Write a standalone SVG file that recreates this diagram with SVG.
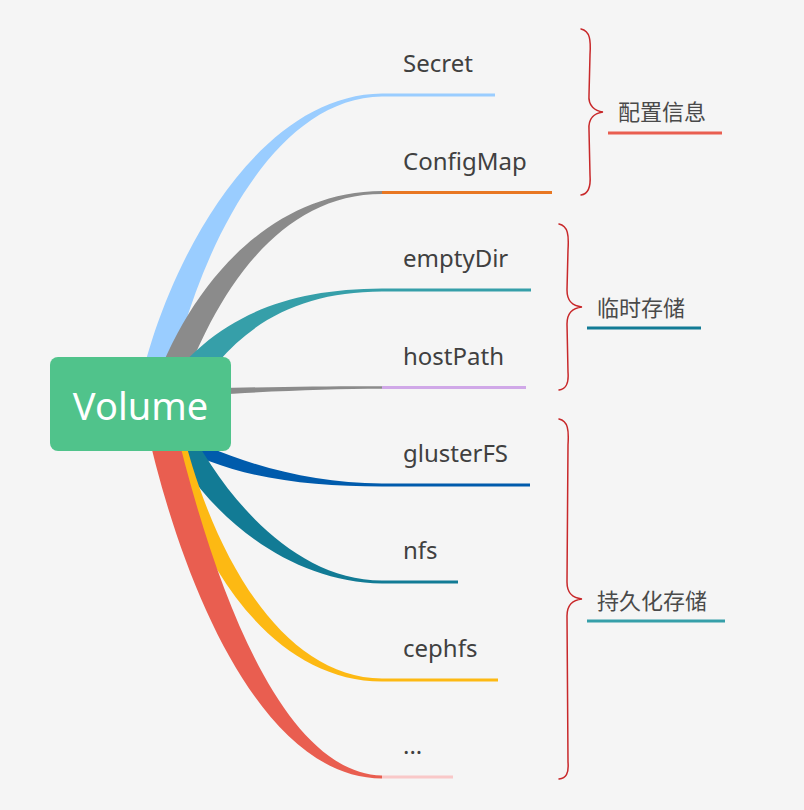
<svg xmlns="http://www.w3.org/2000/svg" width="804" height="810" viewBox="0 0 804 810">
<style>
.lbl{font-family:"Noto Sans","Open Sans","DejaVu Sans",sans-serif;font-size:24px;fill:#404040}
.grp{font-family:"Noto Sans CJK SC","Noto Sans",sans-serif;font-size:22px;fill:#4a4a4a}
.brace{fill:none;stroke:#C8282A;stroke-width:1.5;stroke-linecap:round}
.ul{stroke-width:3;fill:none}
</style>
<rect x="0" y="0" width="804" height="810" fill="#F5F5F5"/>
<g id="connectors">
  <path d="M136,404 C158,280 250,95 382,93.5 L382,96.5 C262,98 186,282 166,404 Z" fill="#9ACDFF"/>
  <path d="M148,404 C180,300 260,192 382,191 L382,194 C280,194 215,290 176,404 Z" fill="#8B8B8B"/>
  <path d="M158,395 C210,320 280,289 382,288.5 L382,291.5 C290,292 230,330 185,410 Z" fill="#369FA9"/>
  <path d="M160,390 C250,387 320,386 382,386.2 L382,388.8 C320,389 250,392 160,398 Z" fill="#8B8B8B"/>
  <path d="M160,425 C230,460 300,483 382,483.5 L382,486.5 C300,486 230,478 165,440 Z" fill="#005BAC"/>
  <path d="M160,420 C190,500 280,583 382,583.5 L382,580.5 C290,580 220,490 185,420 Z" fill="#127B95"/>
  <path d="M160,420 C190,560 270,681 382,681.5 L382,678.5 C280,678 210,550 180,420 Z" fill="#FDB913"/>
  <path d="M145,420 C180,580 260,778 382,778.5 L382,775.5 C280,773 212,580 174,420 Z" fill="#E95E50"/>
  <line class="ul" x1="382" y1="95" x2="495" y2="95" stroke="#9ACDFF"/>
  <line class="ul" x1="382" y1="192.5" x2="552" y2="192.5" stroke="#E87722"/>
  <line class="ul" x1="382" y1="290" x2="531" y2="290" stroke="#369FA9"/>
  <line class="ul" x1="382" y1="387.5" x2="526" y2="387.5" stroke="#D0A8E8"/>
  <line class="ul" x1="382" y1="485" x2="530" y2="485" stroke="#005BAC"/>
  <line class="ul" x1="382" y1="582" x2="458" y2="582" stroke="#127B95"/>
  <line class="ul" x1="382" y1="680" x2="498" y2="680" stroke="#FDB913"/>
  <line class="ul" x1="382" y1="777" x2="453" y2="777" stroke="#F9C8C8"/>
</g>
<g id="volume">
  <rect x="50" y="357" width="181" height="94" rx="8" fill="#50C38B"/>
  <text x="140.5" y="420" text-anchor="middle" font-family="Noto Sans, Open Sans, sans-serif" font-size="38" fill="#FFFFFF">Volume</text>
</g>
<g id="secret"><text class="lbl" x="403" y="72">Secret</text></g>
<g id="configmap"><text class="lbl" x="403" y="170">ConfigMap</text></g>
<g id="emptydir"><text class="lbl" x="403" y="267">emptyDir</text></g>
<g id="hostpath"><text class="lbl" x="403" y="365">hostPath</text></g>
<g id="glusterfs"><text class="lbl" x="403" y="462">glusterFS</text></g>
<g id="nfs"><text class="lbl" x="403" y="559">nfs</text></g>
<g id="cephfs"><text class="lbl" x="403" y="657">cephfs</text></g>
<g id="more"><text class="lbl" x="403" y="754">...</text></g>
<g id="brace-config">
  <path class="brace" d="M581,29 C590,31 591,40 590,55 L589,95 C588,106 595,111 603,112 C595,113 588,118 589,130 L590,175 C591,188 588,194 581,195"/>
  <text class="grp" x="618" y="120">配置信息</text>
  <line class="ul" x1="608" y1="133" x2="722" y2="133" stroke="#E95E50"/>
</g>
<g id="brace-temp">
  <path class="brace" d="M559,224 C568,226 569,235 568,250 L567,290 C567,302 573,306 582,307 C573,308 567,312 567,324 L568,372 C569,384 566,389 559,390"/>
  <text class="grp" x="597" y="316">临时存储</text>
  <line class="ul" x1="587" y1="328" x2="701" y2="328" stroke="#127B95"/>
</g>
<g id="brace-persist">
  <path class="brace" d="M559,419 C568,421 569,430 568,445 L567,582 C567,594 573,598 582,599 C573,600 567,604 567,616 L568,762 C569,774 566,778 559,779"/>
  <text class="grp" x="597" y="609">持久化存储</text>
  <line class="ul" x1="587" y1="621" x2="725" y2="621" stroke="#369FA9"/>
</g>
</svg>
